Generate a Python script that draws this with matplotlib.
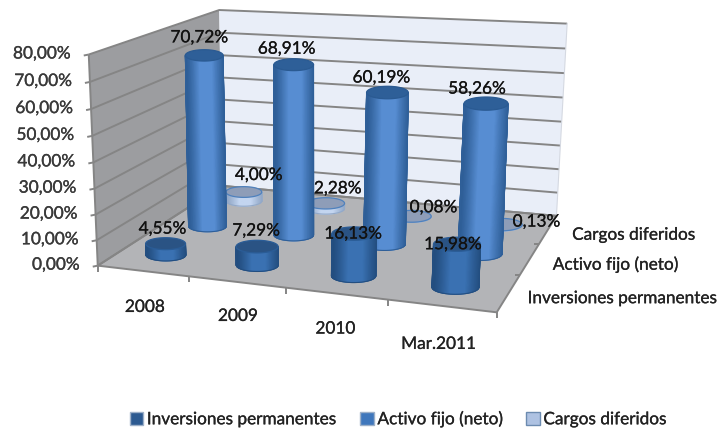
import matplotlib
matplotlib.use("Agg")
import matplotlib.pyplot as plt
import matplotlib.patheffects as pe
import numpy as np
from matplotlib.colors import LinearSegmentedColormap
from matplotlib.patches import Patch, Polygon

plt.rcParams["font.family"] = ["Lato", "DejaVu Sans"]

categories = ["2008", "2009", "2010", "Mar.2011"]
series_names = ["Inversiones permanentes", "Activo fijo (neto)", "Cargos diferidos"]
inversiones = [4.55, 7.29, 16.13, 15.98]
activo = [70.72, 68.91, 60.19, 58.26]
cargos = [4.00, 2.28, 0.08, 0.13]
y_ticks = [0, 10, 20, 30, 40, 50, 60, 70, 80]

# corners of the box: (u along categories, v into depth, value) -> picture pixels
CORNERS = [
    ((0, 0, 0), (100, 263)), ((0, 0, 80), (88, 52)),
    ((0, 1, 0), (220, 191)), ((0, 1, 80), (220, 9)),
    ((1, 1, 0), (558, 208)), ((1, 1, 80), (567, 27)),
    ((1, 0, 0), (495, 318)),
]
FS = 12.4
BOLDISH = [pe.withStroke(linewidth=0.2, foreground="#2A2A2A")]


def fit_projection(corners):
    rows, rhs = [], []
    for (u, v, z), (px, py) in corners:
        z = z / 80
        rows.append([u, v, z, 1, 0, 0, 0, 0, -px * u, -px * v, -px * z])
        rhs.append(px)
        rows.append([0, 0, 0, 0, u, v, z, 1, -py * u, -py * v, -py * z])
        rhs.append(py)
    h = np.linalg.lstsq(np.array(rows, float), np.array(rhs, float), rcond=None)[0]
    return np.append(h, 1).reshape(3, 4)


P = fit_projection(CORNERS)


def proj(u, v, z):
    u, v, z = np.broadcast_arrays(u, v, np.asarray(z, float) / 80)
    pts = np.stack([u, v, z, np.ones_like(u, dtype=float)], axis=-1) @ P.T
    return pts[..., 0] / pts[..., 2], pts[..., 1] / pts[..., 2]


def cylinder(ax, cu, cv, value, edge, centre, top, top_edge, ru=0.056):
    bx, by = proj(cu, cv, 0)
    tx, ty = proj(cu, cv, value)
    # ellipse half width from the local scale of the box, flat on screen like the original
    a = (proj(cu + ru, cv, 0)[0] - proj(cu - ru, cv, 0)[0]) / 2
    b = a * 0.3
    th = np.linspace(np.pi, 0, 61)
    ox, oy = a * np.cos(th), b * np.sin(th)
    shade = np.clip((1 - np.abs(ox / a - 0.08)) * 1.5, 0, 1) ** 1.2
    cmap = LinearSegmentedColormap.from_list("side", [edge, centre])
    ax.pcolormesh(np.vstack([bx + ox, tx + ox]), np.vstack([by + oy, ty + oy]), np.vstack([shade, shade]),
                  shading="gouraud", cmap=cmap, vmin=0, vmax=1, zorder=3)
    # outline keeps the sides and the bottom curve clean
    ax.plot(np.r_[tx - a, bx + ox, tx + a], np.r_[ty, by + oy, ty], color=edge, lw=0.8, zorder=3)
    ring = np.linspace(0, 2 * np.pi, 121)
    ax.add_patch(Polygon(np.column_stack([tx + a * np.cos(ring), ty + b * np.sin(ring)]), closed=True,
                         fc=top, ec=top_edge, lw=0.9, zorder=3))


fig = plt.figure(figsize=(7.19, 4.28), dpi=100)
ax = fig.add_axes([0, 0, 1, 1])


def face(pts, color):
    xs, ys = proj(*np.array(pts, float).T)
    ax.add_patch(Polygon(np.column_stack([xs, ys]), closed=True, fc=color, ec="none", zorder=1))


# walls and floor
face([(0, 0, 0), (0, 1, 0), (0, 1, 80), (0, 0, 80)], "#9C9DA0")
face([(0, 1, 0), (1, 1, 0), (1, 1, 80), (0, 1, 80)], "#E9EEF8")
face([(0, 0, 0), (1, 0, 0), (1, 1, 0), (0, 1, 0)], "#B3B4B7")

line = dict(color="#858585", lw=1.4, zorder=2, solid_capstyle="butt")
for val in y_ticks:
    xs, ys = proj(np.array([0, 0, 1]), np.array([0, 1, 1]), val)
    ax.plot(xs, ys, **line)
    lx, ly = proj(0, 0, val)
    ax.plot([lx - 5, lx], [ly + 1, ly], **line)
    ax.text(lx - 18, ly - 1, f"{val},00%", ha="right", va="center", fontsize=FS, color="#3A3A3A", zorder=5,
            path_effects=BOLDISH)

xs, ys = proj(np.array([0, 1, 1, 0, 0]), np.array([0, 0, 1, 1, 0]), 0)
ax.plot(xs, ys, **line)
xs, ys = proj(np.array([0, 0]), np.array([0, 0]), np.array([0, 80]))
ax.plot(xs, ys, **line)
xs, ys = proj(np.array([1, 1]), np.array([1, 1]), np.array([0, 80]))
ax.plot(xs, ys, color="#D5D9E2", lw=0.8, zorder=2)

for i in range(5):
    tx, ty = proj(i / 4, 0, 0)
    ax.plot([tx, tx], [ty, ty + 6], **line)
for j in range(1, 4):
    tx, ty = proj(1, j / 3, 0)
    ax.plot([tx, tx - 5], [ty, ty], **line)

styles = {
    "cargos": ("#93A9C8", "#C3D5F0", "#8E9DB8", "#4F81BD"),
    "activo": ("#2F5F98", "#578DD2", "#2E5F98", "#2A5A92"),
    "inversiones": ("#234E80", "#3A71B2", "#2A5384", "#2A5C96"),
}
rows = [("cargos", cargos, 2), ("activo", activo, 1), ("inversiones", inversiones, 0)]
for name, values, j in rows:
    for i, val in enumerate(values):
        cylinder(ax, (i + 0.5) / 4, (j + 0.5) / 3, val, *styles[name])

# data label offsets from each cylinder top, per category
label_dx = {"cargos": [15, 12, 22, 35], "activo": [-5, -7, -6, -9], "inversiones": [-3, -1, -1, -4]}
label_dy = {"cargos": [-17, -15, -9, -3], "activo": [-18, -16, -15, -15], "inversiones": [-15, -16, 0, 0]}
for name, values, j in rows:
    for i, val in enumerate(values):
        px, py = proj((i + 0.5) / 4, (j + 0.5) / 3, val)
        ax.text(px + label_dx[name][i], py + label_dy[name][i], f"{val:.2f}%".replace(".", ","), ha="center",
                va="center", fontsize=FS, color="#111111", zorder=6, path_effects=BOLDISH)

for i, cat in enumerate(categories):
    px, py = proj((i + 0.5) / 4, 0, 0)
    ax.text(px + [2, 1, -1, -3][i], py + [36, 34, 35, 38][i], cat, ha="center", va="center",
            fontsize=FS, color="#222222", zorder=5, path_effects=BOLDISH)
for j, name in enumerate(series_names):
    px, py = proj(1, (j + 0.5) / 3, 0)
    ax.text(px + [19, 23, 24][j], py + [5, 5.5, 5.5][j], name, ha="left", va="center", fontsize=FS,
            color="#222222", zorder=5, path_effects=BOLDISH)

handles = [Patch(fc="#2C5A91", ec="#9DB0C8"), Patch(fc="#3F77BC", ec="#9DB0C8"), Patch(fc="#AEC2E2", ec="#6C8BB0")]
leg = ax.legend(handles, series_names, loc="center", bbox_to_anchor=(398 / 719, 1 - 419 / 428), ncol=3, frameon=False,
                fontsize=FS, handlelength=0.8, handleheight=0.8, handletextpad=0.2, columnspacing=1.35,
                labelcolor="#222222")
for t in leg.get_texts():
    t.set_path_effects(BOLDISH)

ax.set_xlim(0, 719)
ax.set_ylim(428, 0)
ax.axis("off")
fig.savefig("out.png", dpi=100)
